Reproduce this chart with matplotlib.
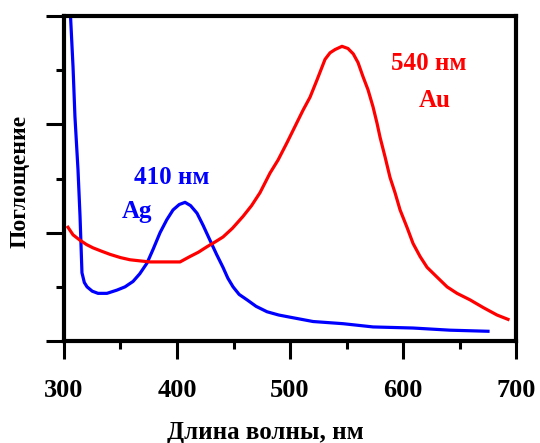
import matplotlib.pyplot as plt
from matplotlib.ticker import MultipleLocator

# Ag spectrum (wavelength, nm / absorbance, a.u.)
ag_nm = [305.3, 308.0, 309.7, 312.4, 314.2, 315.9, 318.0, 320.4, 325.0, 330.1,
         338.0, 346.9, 354.0, 361.1, 367.0, 373.5, 379.0, 385.0, 391.0, 396.5,
         402.0, 407.1, 412.0, 417.7, 423.0, 429.2, 435.0, 440.7, 445.0, 449.6,
         455.0, 462.0, 470.0, 479.7, 490.0, 500.0, 520.4, 546.9, 573.5, 608.8,
         641.6, 675.2]
ag_abs = [3.10, 2.53, 2.07, 1.58, 1.15, 0.63, 0.54, 0.50, 0.46, 0.44,
          0.44, 0.47, 0.50, 0.55, 0.62, 0.72, 0.85, 1.00, 1.12, 1.21,
          1.26, 1.28, 1.25, 1.18, 1.07, 0.93, 0.80, 0.68, 0.58, 0.50,
          0.43, 0.38, 0.32, 0.27, 0.24, 0.22, 0.18, 0.16, 0.13, 0.12,
          0.10, 0.09]

# Au spectrum
au_nm = [303.5, 308.0, 314.2, 320.0, 325.7, 333.0, 340.7, 350.0, 358.4, 367.0,
         376.1, 390.0, 402.7, 411.5, 419.0, 426.5, 433.0, 440.7, 449.0, 458.4,
         466.0, 473.5, 482.3, 489.4, 497.3, 504.4, 511.5, 517.7, 523.9, 531.0,
         535.4, 539.8, 546.0, 551.3, 556.0, 560.2, 564.6, 569.0, 573.5, 577.0,
         579.7, 584.1, 588.5, 592.9, 597.4, 603.5, 608.9, 615.1, 621.3, 630.1,
         639.0, 647.8, 659.3, 670.8, 683.2, 692.9]
au_abs = [1.05, 0.98, 0.93, 0.89, 0.86, 0.83, 0.80, 0.77, 0.75, 0.74,
          0.73, 0.73, 0.73, 0.78, 0.82, 0.87, 0.91, 0.96, 1.04, 1.15,
          1.25, 1.37, 1.55, 1.67, 1.83, 1.98, 2.13, 2.25, 2.41, 2.60,
          2.66, 2.69, 2.72, 2.70, 2.65, 2.57, 2.44, 2.32, 2.16, 2.01,
          1.88, 1.70, 1.51, 1.37, 1.21, 1.05, 0.90, 0.78, 0.68, 0.59,
          0.50, 0.44, 0.38, 0.31, 0.24, 0.20]

xticks = [300, 400, 500, 600, 700]

plt.rcParams['font.family'] = ['Liberation Serif', 'DejaVu Serif']
plt.rcParams['font.weight'] = 'bold'

fig = plt.figure(figsize=(5.4, 4.43), dpi=100)
ax = fig.add_axes([0.1185, 0.2302, 0.8371, 0.7337])

ax.plot(ag_nm, ag_abs, color='#0000ff', lw=2.3)
ax.plot(au_nm, au_abs, color='#ff0000', lw=2.3)

ax.text(395.6, 1.51, '410 нм', color='#0000ff', fontsize=18, fontweight='bold',
        ha='center', va='center')
ax.text(364.6, 1.20, 'Ag', color='#0000ff', fontsize=18, fontweight='bold',
        ha='center', va='center')
ax.text(623, 2.56, '540 нм', color='#ff0000', fontsize=18, fontweight='bold',
        ha='center', va='center')
ax.text(628, 2.22, 'Au', color='#ff0000', fontsize=18, fontweight='bold',
        ha='center', va='center')

ax.set_xlim(300, 700)
ax.set_ylim(0, 3)
ax.set_xticks(xticks)
ax.set_xticklabels([str(t) for t in xticks])
ax.xaxis.set_minor_locator(MultipleLocator(50))
ax.yaxis.set_major_locator(MultipleLocator(1))
ax.yaxis.set_minor_locator(MultipleLocator(0.5))
ax.set_yticklabels([])

ax.tick_params(axis='both', which='major', direction='out', length=13, width=2.2,
               labelsize=19, pad=14)
ax.tick_params(axis='both', which='minor', direction='out', length=6, width=2.2)
for s in ax.spines.values():
    s.set_linewidth(3)

ax.set_xlabel('Длина волны, нм', fontsize=18, fontweight='bold', va='center')
ax.xaxis.set_label_coords(0.446, -0.28)
ax.set_ylabel('Поглощение', fontsize=17, fontweight='bold', va='center')
ax.yaxis.set_label_coords(-0.097, 0.49)

fig.savefig('out.png', dpi=100)
